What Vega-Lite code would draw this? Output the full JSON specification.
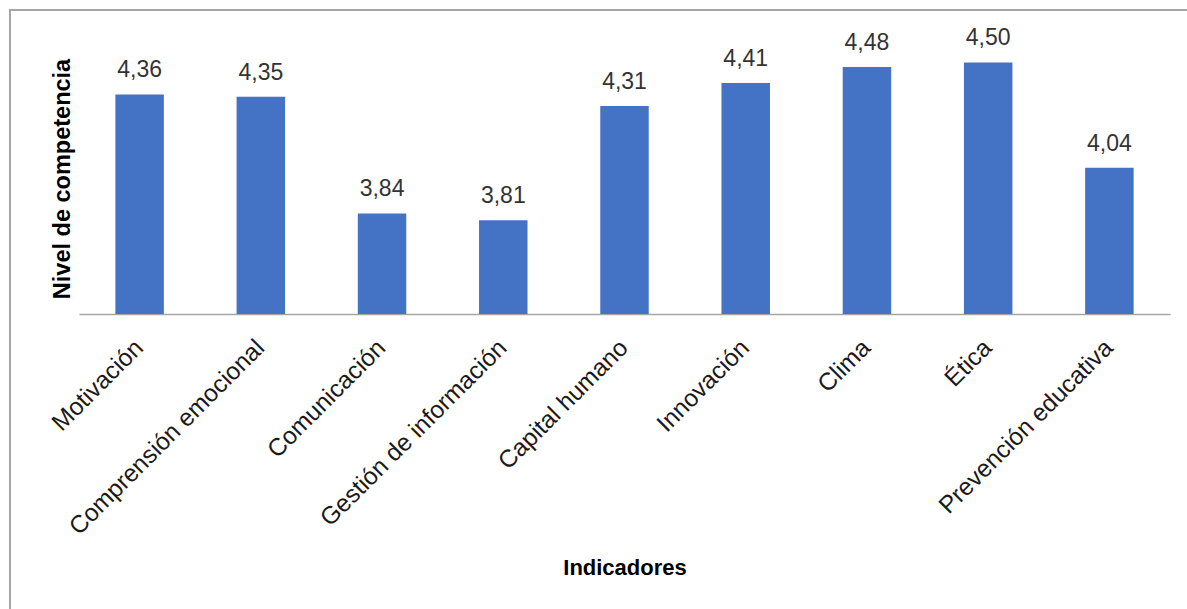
{
  "$schema": "https://vega.github.io/schema/vega-lite/v6.json",
  "autosize": {"type": "none"},
  "width": 1180,
  "height": 602,
  "padding": {"left": 10, "top": 10, "right": 0, "bottom": 0},
  "background": "white",
  "config": {
    "view": {"stroke": "#a6a6a6", "strokeWidth": 2},
    "font": "Liberation Sans"
  },
  "data": {
    "values": [
      {"indicador": "Motivación", "valor": 4.36, "etiqueta": "4,36"},
      {"indicador": "Comprensión emocional", "valor": 4.35, "etiqueta": "4,35"},
      {"indicador": "Comunicación", "valor": 3.84, "etiqueta": "3,84"},
      {"indicador": "Gestión de información", "valor": 3.81, "etiqueta": "3,81"},
      {"indicador": "Capital humano", "valor": 4.31, "etiqueta": "4,31"},
      {"indicador": "Innovación", "valor": 4.41, "etiqueta": "4,41"},
      {"indicador": "Clima", "valor": 4.48, "etiqueta": "4,48"},
      {"indicador": "Ética", "valor": 4.50, "etiqueta": "4,50"},
      {"indicador": "Prevención educativa", "valor": 4.04, "etiqueta": "4,04"}
    ]
  },
  "encoding": {
    "x": {
      "field": "indicador",
      "type": "nominal",
      "sort": null,
      "scale": {"range": [69, 1160], "paddingInner": 0.6, "paddingOuter": 0.3},
      "axis": {
        "offset": -298,
        "ticks": false,
        "domainColor": "#a6a6a6",
        "domainWidth": 1.5,
        "labelAngle": -45,
        "labelAlign": "right",
        "labelBaseline": "middle",
        "labelPadding": 30,
        "labelFont": "Liberation Sans",
        "labelFontSize": 24.5,
        "labelColor": "#1a1a1a",
        "labelLimit": 400,
        "title": "Indicadores",
        "titleFont": "Liberation Sans",
        "titleFontSize": 22,
        "titleFontWeight": "bold",
        "titleColor": "#000000",
        "titleBaseline": "middle",
        "titleY": 253
      }
    },
    "y": {
      "field": "valor",
      "type": "quantitative",
      "scale": {"domain": [3.4, 4.6], "range": [304, 29.6], "zero": false, "nice": false},
      "axis": {
        "labels": false,
        "ticks": false,
        "domain": false,
        "grid": false,
        "title": "Nivel de competencia",
        "titleFont": "Liberation Sans",
        "titleFontSize": 23.5,
        "titleFontWeight": "bold",
        "titleColor": "#000000",
        "titleAngle": -90,
        "titleAlign": "center",
        "titleBaseline": "middle",
        "titleX": 52,
        "titleY": 168.5
      }
    }
  },
  "layer": [
    {
      "mark": {"type": "bar", "color": "#4472C4"},
      "encoding": {"y2": {"datum": 3.4}}
    },
    {
      "mark": {"type": "text", "baseline": "alphabetic", "dy": -17, "fontSize": 23, "font": "Liberation Sans", "color": "#333333"},
      "encoding": {"text": {"field": "etiqueta"}}
    }
  ]
}
